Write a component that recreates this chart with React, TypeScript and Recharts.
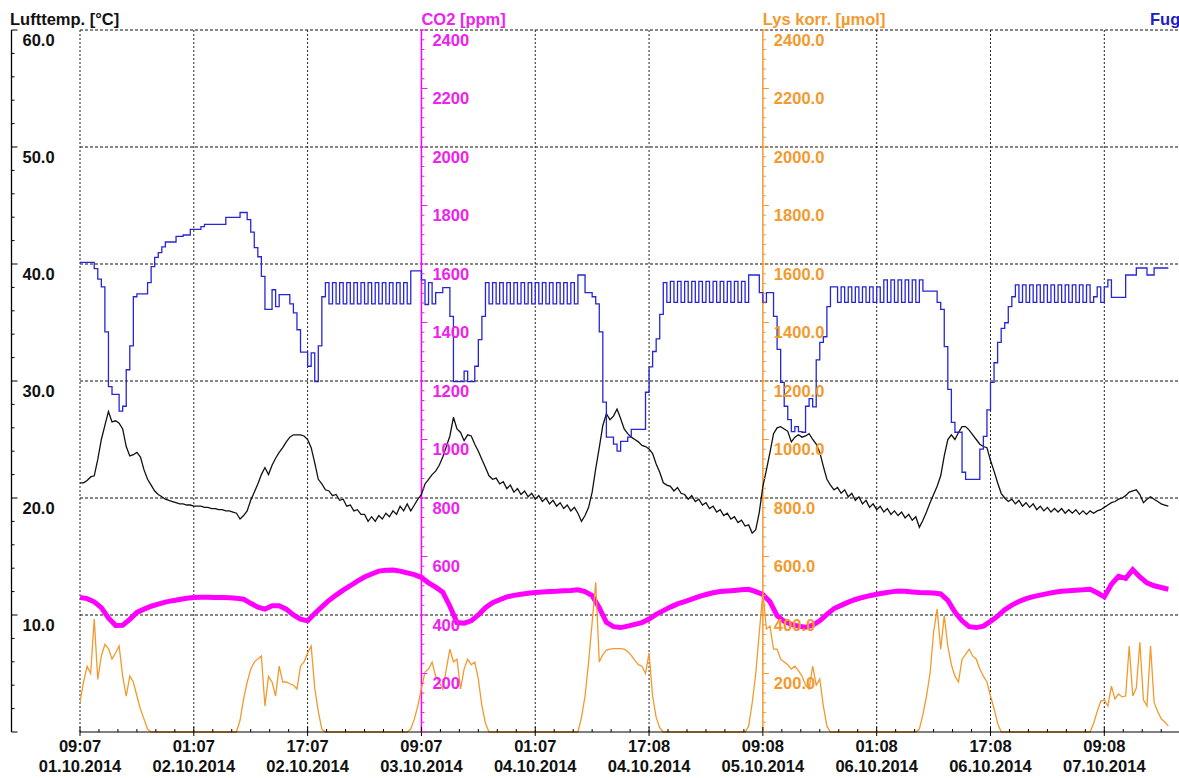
import React from 'react'
import { ComposedChart, Line, XAxis, YAxis, ReferenceLine } from 'recharts'

// time axis: hours since 01.10.2014 09:07
const tickTimes = ['09:07', '01:07', '17:07', '09:07', '01:07', '17:08', '09:08', '01:08', '17:08', '09:08']
const tickDates = ['01.10.2014', '02.10.2014', '02.10.2014', '03.10.2014', '04.10.2014', '04.10.2014', '05.10.2014', '06.10.2014', '06.10.2014', '07.10.2014']

const tempLabels = [10, 20, 30, 40, 50, 60]
const ppmLabels = [200, 400, 600, 800, 1000, 1200, 1400, 1600, 1800, 2000, 2200, 2400]

// Fugt, every 0.5 h
const humidity = [
  66.9, 66.9, 66.9, 66.9, 66, 64.5, 63.4, 57, 49.2, 48.1,
  48.1, 45.7, 46.4, 51.6, 55, 62, 62.4, 62.4, 62.4, 64,
  66.3, 67.6, 68.3, 69.1, 69.8, 69.8, 69.8, 70.6, 70.6, 70.8,
  70.8, 71.6, 71.6, 71.6, 72, 72.3, 72.3, 72.3, 72.3, 72.3,
  72.3, 73.3, 73.3, 73.3, 73.3, 74, 74, 73, 71.2, 69,
  67.7, 64.9, 60.2, 60.2, 63, 60.6, 62.3, 62.3, 62.3, 61,
  59.7, 57.3, 54.1, 54.1, 52.1, 54, 49.9, 55, 62, 64,
  61, 64, 61, 64, 61, 64, 61, 64, 61, 64,
  61, 64, 61, 64, 61, 64, 61, 64, 61, 64,
  61, 64, 61, 65.7, 65.7, 65.7, 64.4, 60.9, 64, 61,
  62.6, 62.6, 63.3, 63.3, 59.2, 49.9, 49.9, 49.9, 51.4, 49.9,
  49.9, 52.1, 55.9, 59.2, 64, 61, 64, 61, 64, 61,
  64, 61, 64, 61, 64, 61, 64, 61, 64, 61,
  64, 61, 64, 61, 64, 61, 64, 61, 64, 61,
  65.1, 65.1, 62.6, 62.6, 62, 61, 57, 47, 42, 42,
  41, 40, 41.4, 41.4, 42, 43.1, 43.1, 43.1, 43.1, 48.4,
  52, 54.2, 56, 59.5, 64, 61.2, 64.2, 61.2, 64.2, 61.2,
  64.2, 61.2, 64.2, 61.2, 64.2, 61.2, 64.2, 61.2, 64.2, 61.2,
  64.2, 61.2, 64.2, 61.2, 64.2, 61.2, 64.2, 61.2, 65.1, 65.1,
  65.1, 62.6, 61.2, 62.6, 62.6, 59.2, 54.5, 49.8, 46.4, 44.5,
  42.8, 43.5, 42.8, 42.7, 46.4, 47.5, 46.3, 53, 55.5, 56.3,
  60.6, 63.4, 63.4, 61.2, 63.4, 61.2, 63.4, 61.2, 63.4, 61.2,
  63.4, 61.2, 63.4, 61.2, 63.4, 61.2, 64.4, 61.2, 64.4, 61.2,
  64.4, 61.2, 64.4, 61.2, 64.4, 61.2, 64.4, 62.8, 62.8, 62.8,
  62.8, 61.2, 60.2, 54.9, 48.8, 44.1, 42.7, 42.7, 37, 36,
  36, 36, 36, 40.3, 42.1, 45.9, 49.8, 52.6, 55.5, 57.5,
  58.3, 60.6, 62, 63.7, 61.2, 63.7, 61.2, 63.7, 61.2, 63.7,
  61.2, 63.7, 61.2, 63.7, 61.2, 63.7, 61.2, 63.7, 61.2, 63.7,
  61.2, 63.7, 61.2, 63.7, 61.2, 62, 63.4, 61.2, 63.4, 64.4,
  61.9, 61.9, 61.9, 61.9, 65.1, 65.1, 65.1, 66.1, 66.1, 66.1,
  65.1, 65.1, 66.1, 66.1, 66.1, 66.1, 66.1
]

// Lufttemp., every 0.5 h
const airTemp = [
  21.3, 21.3, 21.5, 21.8, 21.9, 23.3, 25.0, 26.2, 27.4, 26.5,
  26.6, 26.4, 25.9, 24.4, 23.6, 23.7, 23.9, 23.5, 22.4, 21.6,
  21.1, 20.6, 20.3, 20.1, 19.9, 19.8, 19.7, 19.6, 19.5, 19.5,
  19.4, 19.4, 19.3, 19.3, 19.3, 19.2, 19.2, 19.1, 19.1, 19.0,
  19.0, 18.9, 18.9, 18.8, 18.7, 18.2, 18.5, 18.9, 19.8, 20.5,
  21.2, 22.0, 22.6, 22.0, 22.8, 23.4, 23.9, 24.3, 24.8, 25.2,
  25.4, 25.4, 25.4, 25.3, 25.0, 24.3, 23.0, 21.6, 21.2, 20.7,
  20.6, 20.2, 20.3, 19.8, 19.9, 19.3, 19.4, 18.9, 19.0, 18.6,
  18.6, 18.0, 18.4, 18.0, 18.5, 18.2, 18.7, 18.4, 18.9, 18.6,
  19.3, 18.9, 19.5, 18.9, 19.4, 19.9, 20.3, 21.2, 21.6, 22.0,
  22.3, 22.8, 23.5, 24.4, 25.3, 26.9, 25.9, 25.6, 24.9, 25.4,
  25.3, 24.6, 24.0, 23.3, 22.6, 21.9, 21.6, 21.7, 21.2, 21.4,
  20.8, 21.1, 20.5, 20.8, 20.3, 20.6, 20.1, 20.4, 19.9, 20.2,
  19.7, 20.0, 19.5, 19.8, 19.3, 19.6, 19.1, 19.4, 18.9, 19.2,
  18.7, 18.0, 18.5, 19.2, 20.5, 22.5, 24.3, 26.2, 27.2, 26.7,
  27.0, 27.6, 26.8, 25.9, 25.5, 25.2, 25.0, 24.8, 24.5, 24.4,
  24.2, 23.8, 22.9, 22.2, 21.3, 21.1, 21.0, 20.6, 20.9, 20.4,
  20.3, 19.9, 20.2, 19.7, 19.9, 19.4, 19.6, 19.1, 19.3, 18.8,
  19.0, 18.5, 18.7, 18.2, 18.4, 17.9, 18.1, 17.6, 17.7, 17.0,
  17.3, 18.8, 21.0, 22.4, 23.9, 25.5, 26.0, 26.1, 25.9, 25.7,
  24.8, 25.2, 25.4, 25.2, 25.3, 25.5, 25.0, 24.6, 23.9, 22.7,
  21.6, 21.1, 20.7, 20.9, 20.4, 20.7, 20.1, 20.4, 19.8, 20.1,
  19.5, 19.8, 19.2, 19.5, 19.0, 19.3, 18.8, 19.1, 18.6, 18.9,
  18.5, 18.8, 18.3, 18.6, 18.1, 18.4, 17.5, 18.1, 18.8, 19.6,
  20.3, 21.0, 21.9, 23.6, 25.0, 25.4, 25.0, 25.6, 26.1, 26.1,
  25.8, 25.4, 25.0, 24.6, 24.4, 24.3, 23.2, 22.3, 21.3, 20.4,
  20.0, 19.7, 19.9, 19.5, 19.8, 19.3, 19.6, 19.2, 19.5, 19.0,
  19.3, 18.9, 19.2, 18.8, 19.1, 18.8, 19.1, 18.7, 19.0, 18.7,
  19.0, 18.6, 18.9, 18.6, 18.9, 18.7, 18.9, 19.0, 19.2, 19.4,
  19.6, 19.7, 19.9, 20.0, 20.2, 20.5, 20.6, 20.7, 20.3, 19.6,
  19.9, 20.1, 19.9, 19.7, 19.5, 19.4, 19.3
]

// CO2, every hour
const co2 = [
  460, 456, 445, 425, 390, 364, 365, 385, 409, 420,
  430, 437, 444, 449, 453, 457, 460, 461, 461, 460,
  460, 459, 457, 454, 440, 427, 420, 432, 432, 420,
  400, 386, 380, 405, 428, 450, 468, 485, 500, 516,
  530, 540, 550, 553, 554, 550, 544, 538, 528, 510,
  495, 478, 430, 374, 372, 380, 400, 425, 442, 452,
  462, 467, 471, 474, 477, 479, 480, 481, 483, 484,
  486, 480, 466, 425, 375, 360, 357, 362, 368, 374,
  386, 402, 415, 427, 438, 446, 454, 463, 470, 476,
  480, 482, 484, 486, 488, 480, 470, 445, 398, 378,
  368, 362, 358, 365, 380, 402, 422, 433, 444, 453,
  460, 466, 471, 475, 479, 482, 481, 479, 477, 476,
  475, 472, 450, 410, 380, 360, 357, 362, 378, 396,
  418, 434, 446, 456, 463, 468, 473, 478, 481, 483,
  485, 486, 488, 476, 462, 505, 532, 525, 555, 530,
  510, 500, 494, 488
]

// Lys korr., every 0.5 h
const light = [
  102, 171, 225, 200, 386, 180, 260, 300, 285, 250,
  270, 294, 191, 123, 191, 171, 123, 78, 44, 10,
  0, 0, 0, 0, 0, 0, 0, 0, 0, 0,
  0, 0, 0, 0, 0, 0, 0, 0, 0, 0,
  0, 0, 0, 0, 0, 40, 113, 170, 215, 239,
  250, 260, 89, 190, 171, 123, 225, 171, 171, 165,
  160, 147, 225, 240, 270, 294, 150, 70, 10, 0,
  0, 0, 0, 0, 0, 0, 0, 0, 0, 0,
  0, 0, 0, 0, 0, 0, 0, 0, 0, 0,
  0, 0, 0, 10, 44, 90, 150, 205, 215, 239,
  191, 170, 147, 215, 283, 240, 249, 147, 215, 249,
  230, 239, 181, 89, 30, 0, 0, 0, 0, 0,
  0, 0, 0, 0, 0, 0, 0, 0, 0, 0,
  0, 0, 0, 0, 0, 0, 0, 0, 0, 0,
  0, 50, 123, 239, 375, 512, 239, 265, 280, 283,
  285, 285, 285, 283, 275, 262, 245, 230, 225, 200,
  270, 123, 50, 15, 0, 0, 0, 0, 0, 0,
  0, 0, 0, 0, 0, 0, 0, 0, 0, 0,
  0, 0, 0, 0, 0, 0, 0, 0, 20, 100,
  200, 341, 478, 352, 362, 283, 283, 249, 239, 230,
  215, 225, 210, 191, 160, 147, 225, 160, 181, 89,
  20, 0, 0, 0, 0, 0, 0, 0, 0, 0,
  0, 0, 0, 0, 0, 0, 0, 0, 0, 0,
  0, 0, 0, 0, 0, 0, 10, 60, 123, 200,
  341, 420, 283, 398, 294, 230, 191, 171, 249, 265,
  283, 260, 249, 215, 191, 171, 123, 80, 30, 0,
  0, 0, 0, 0, 0, 0, 0, 0, 0, 0,
  0, 0, 0, 0, 0, 0, 0, 0, 0, 0,
  0, 0, 0, 0, 0, 30, 70, 105, 110, 89,
  157, 113, 130, 120, 123, 294, 123, 150, 307, 110,
  89, 294, 102, 70, 45, 34, 20
]

const W = 1179
const H = 778
const PLOT_LEFT = 80
const PLOT_TOP = 30
const PLOT_BOTTOM = 732
const X_MAX = 154.5
const PX_PER_H = (W - PLOT_LEFT) / X_MAX
const MINOR_H = 16 / 6
const CO2_AXIS_H = 48
const LIGHT_AXIS_H = 96
const LEFT_AXIS_X = 11.5
const AXIS_W = 1 // the three drawn y axes each take 1px on the left

const FONT = '"Liberation Sans", Arial, sans-serif'
const BLUE = '#2626d6'
const MAGENTA = '#ff00ff'
const ORANGE = '#f29a2e'

const toSeries = (vals: number[], step: number) => vals.map((v, i) => ({ h: i * step, v }))

const humData = toSeries(humidity, 0.5)
const tempData = toSeries(airTemp, 0.5)
const co2Data = toSeries(co2, 1)
const lightData = toSeries(light, 0.5)

const majorHours = tickTimes.map((_, i) => i * 16)
const xTicks = Array.from({ length: Math.floor(X_MAX / MINOR_H) + 1 }, (_, i) => i * MINOR_H)
const tempTicks = Array.from({ length: 31 }, (_, i) => i * 2)
const scaleTicks = Array.from({ length: 73 }, (_, i) => (i * 2400) / 72)

const labelStyle = { fontFamily: FONT, fontSize: 16.5, fontWeight: 700 }

const TimeTick = ({ x, payload }: any) => {
  const i = Math.round(payload.value / MINOR_H)
  const major = i % 6 === 0
  const idx = i / 6
  return (
    <g>
      <line x1={x} x2={x} y1={PLOT_BOTTOM - (major ? 5 : 3)} y2={PLOT_BOTTOM + (major ? 4 : 0)} stroke="#000" />
      {major && (
        <>
          <text x={x} y={752} textAnchor="middle" fill="#111" style={labelStyle}>{tickTimes[idx]}</text>
          <text x={x} y={772} textAnchor="middle" fill="#111" style={labelStyle}>{tickDates[idx]}</text>
        </>
      )}
    </g>
  )
}

const TempTick = ({ y, payload }: any) => {
  const v = payload.value
  const major = v % 10 === 0
  return (
    <g>
      {v === 60 && <line x1={LEFT_AXIS_X} x2={LEFT_AXIS_X} y1={y} y2={PLOT_BOTTOM} stroke="#000" strokeWidth={1.3} />}
      <line x1={LEFT_AXIS_X} x2={LEFT_AXIS_X + (major ? 6 : 3)} y1={y} y2={y} stroke="#000" />
      {major && tempLabels.includes(v) && (
        <text x={LEFT_AXIS_X + 11} y={y + 15.5} fill="#111" style={labelStyle}>{v.toFixed(1)}</text>
      )}
    </g>
  )
}

const ScaleTick = ({ y, payload, axisH, color, decimals }: any) => {
  const ax = PLOT_LEFT + axisH * PX_PER_H
  const k = Math.round(payload.value / (2400 / 72))
  const major = k % 6 === 0
  const v = Math.round(k * (2400 / 72))
  return (
    <g>
      <line x1={ax} x2={ax + (major ? 6 : 3)} y1={y} y2={y} stroke={color} />
      {major && ppmLabels.includes(v) && (
        <text x={ax + 11} y={y + 15.5} fill={color} style={labelStyle}>
          {v.toFixed(decimals)}
        </text>
      )}
    </g>
  )
}

const headers = [
  { text: 'Lufttemp. [°C]', color: '#111', x: 10 },
  { text: 'CO2 [ppm]', color: '#ee22ee', x: PLOT_LEFT + CO2_AXIS_H * PX_PER_H },
  { text: 'Lys korr. [µmol]', color: ORANGE, x: PLOT_LEFT + LIGHT_AXIS_H * PX_PER_H },
  { text: 'Fugt [%]', color: '#2020c0', x: 1150 }
]

export default function App() {
  return (
    <div style={{ position: 'fixed', left: 0, top: 0, width: W, height: H, background: '#fff', overflow: 'hidden' }}>
      <ComposedChart width={W} height={H} margin={{ top: PLOT_TOP, right: 0, bottom: 0, left: PLOT_LEFT - 3 * AXIS_W }}>
        <XAxis
          type="number"
          dataKey="h"
          domain={[0, X_MAX]}
          ticks={xTicks}
          interval={0}
          height={H - PLOT_BOTTOM}
          tickLine={false}
          axisLine={{ stroke: '#000' }}
          tick={(p: any) => <TimeTick {...p} />}
          allowDataOverflow
        />
        <YAxis
          yAxisId="t"
          domain={[0, 60]}
          ticks={tempTicks}
          interval={0}
          width={AXIS_W}
          axisLine={false}
          tickLine={false}
          tick={(p: any) => <TempTick {...p} />}
        />
        <YAxis
          yAxisId="co2"
          domain={[0, 2400]}
          ticks={scaleTicks}
          interval={0}
          width={AXIS_W}
          axisLine={false}
          tickLine={false}
          tick={(p: any) => <ScaleTick {...p} axisH={CO2_AXIS_H} color="#ee22ee" decimals={0} />}
        />
        <YAxis
          yAxisId="lys"
          domain={[0, 2400]}
          ticks={scaleTicks}
          interval={0}
          width={AXIS_W}
          axisLine={false}
          tickLine={false}
          tick={(p: any) => <ScaleTick {...p} axisH={LIGHT_AXIS_H} color={ORANGE} decimals={1} />}
        />
        <YAxis yAxisId="hum" domain={[0, 100]} hide />

        {tempLabels.map((v) => (
          <ReferenceLine key={'gy' + v} yAxisId="t" y={v} stroke="#111" strokeDasharray="3 2" />
        ))}
        {majorHours
          .filter((h) => h !== CO2_AXIS_H && h !== LIGHT_AXIS_H)
          .map((h) => (
            <ReferenceLine key={'gx' + h} yAxisId="t" x={h} stroke="#222" strokeDasharray="2 2" />
          ))}
        <ReferenceLine yAxisId="t" x={CO2_AXIS_H} stroke={MAGENTA} strokeWidth={1.5} />
        <ReferenceLine yAxisId="t" x={LIGHT_AXIS_H} stroke={ORANGE} strokeWidth={1.5} />

        <Line yAxisId="co2" data={co2Data} dataKey="v" stroke={MAGENTA} strokeWidth={5} dot={false} activeDot={false} isAnimationActive={false} />
        <Line yAxisId="lys" data={lightData} dataKey="v" stroke={ORANGE} strokeWidth={1.3} dot={false} activeDot={false} isAnimationActive={false} />
        <Line yAxisId="t" data={tempData} dataKey="v" stroke="#111" strokeWidth={1.3} dot={false} activeDot={false} isAnimationActive={false} />
        <Line yAxisId="hum" type="stepAfter" data={humData} dataKey="v" stroke={BLUE} strokeWidth={1.3} dot={false} activeDot={false} isAnimationActive={false} />
      </ComposedChart>
      <svg width={W} height={30} style={{ position: 'absolute', left: 0, top: 0, pointerEvents: 'none' }}>
        {headers.map((hd) => (
          <text key={hd.text} x={hd.x} y={25} fill={hd.color} style={labelStyle}>{hd.text}</text>
        ))}
      </svg>
    </div>
  )
}
